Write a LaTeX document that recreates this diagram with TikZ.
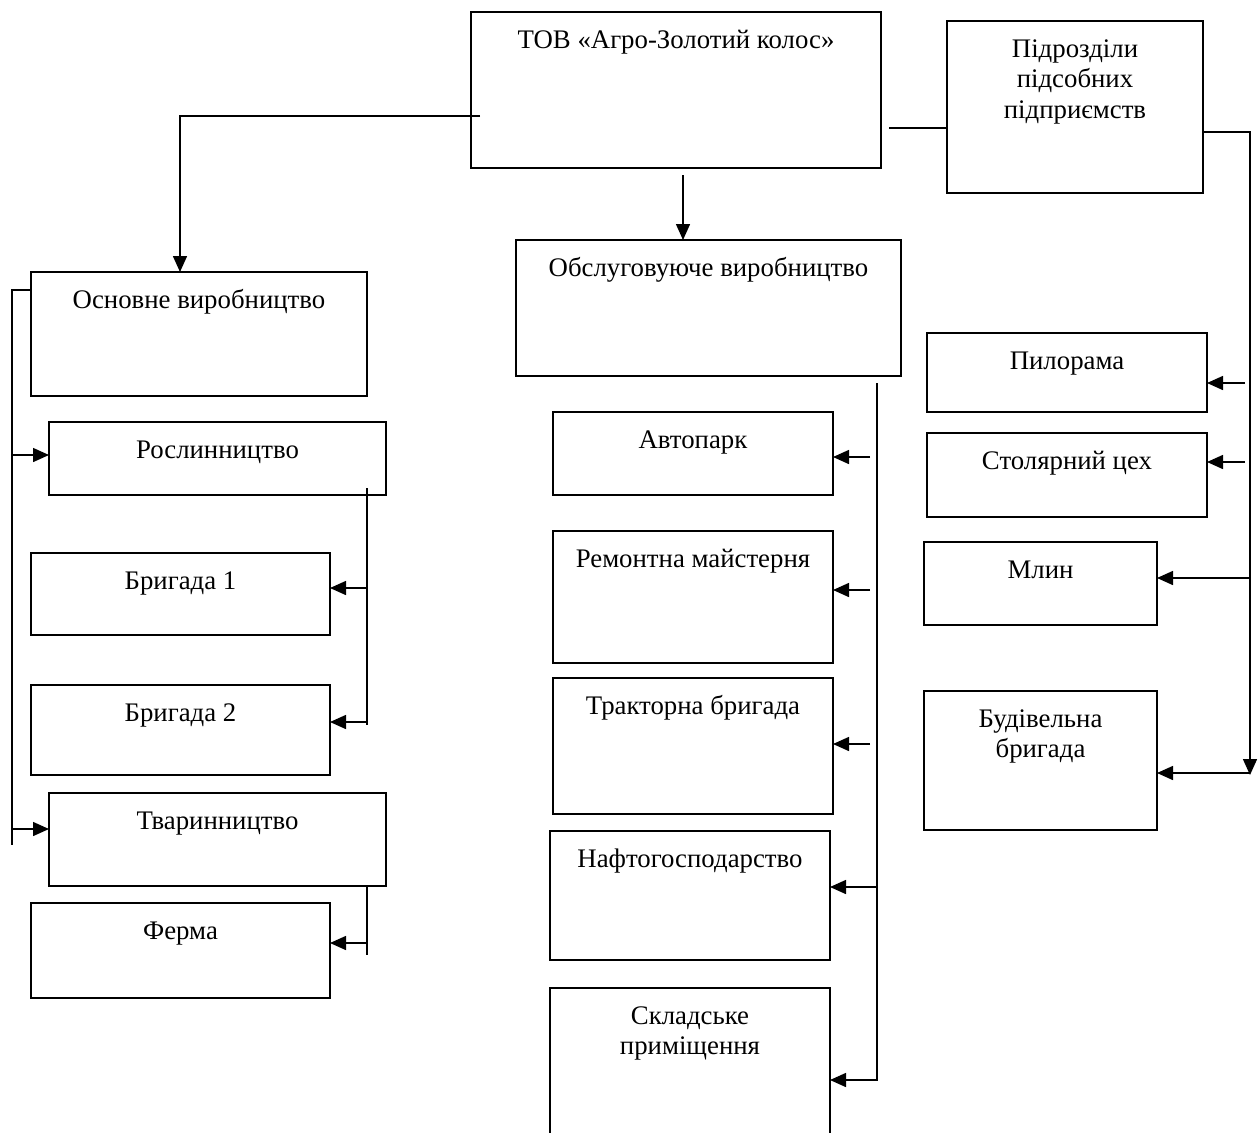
\documentclass[tikz,border=0pt]{standalone}
\usepackage{fontspec}
\setmainfont{Liberation Serif}
\usetikzlibrary{arrows.meta}
\begin{document}
\begin{tikzpicture}[x=1pt,y=-1pt,
  box/.style={draw, line width=1.5pt, inner sep=0pt, outer sep=0pt, anchor=north west},
  lbl/.style={anchor=base, inner sep=0pt, font=\fontsize{26.8}{30.5}\selectfont},
  conn/.style={line width=1.5pt},
  arr/.style={conn, -{Triangle[length=16pt,width=14pt]}}]
\useasboundingbox (0,0) rectangle (1259,1133);
% boxes
\node[box, minimum width=410pt, minimum height=156pt] (tov) at (471,12) {};
\node[box, minimum width=256pt, minimum height=172pt] (pid) at (947,21) {};
\node[box, minimum width=336pt, minimum height=124pt] (osn) at (31,272) {};
\node[box, minimum width=385pt, minimum height=136pt] (obs) at (516,240) {};
\node[box, minimum width=337pt, minimum height=73pt] (ros) at (49,422) {};
\node[box, minimum width=299pt, minimum height=82pt] (br1) at (31,553) {};
\node[box, minimum width=299pt, minimum height=90pt] (br2) at (31,685) {};
\node[box, minimum width=337pt, minimum height=93pt] (tva) at (49,793) {};
\node[box, minimum width=299pt, minimum height=95pt] (fer) at (31,903) {};
\node[box, minimum width=280pt, minimum height=83pt] (avt) at (553,412) {};
\node[box, minimum width=280pt, minimum height=132pt] (rem) at (553,531) {};
\node[box, minimum width=280pt, minimum height=136pt] (tra) at (553,678) {};
\node[box, minimum width=280pt, minimum height=129pt] (naf) at (550,831) {};
\node[box, minimum width=280pt, minimum height=160pt] (skl) at (550,988) {};
\node[box, minimum width=280pt, minimum height=79pt] (pil) at (927,333) {};
\node[box, minimum width=280pt, minimum height=84pt] (sto) at (927,433) {};
\node[box, minimum width=233pt, minimum height=83pt] (mly) at (924,542) {};
\node[box, minimum width=233pt, minimum height=139pt] (bud) at (924,691) {};
% labels
\node[lbl] (ttov) at ([yshift=-36pt]tov.north) {ТОВ «Агро-Золотий колос»};
\node[lbl] (tpid) at ([yshift=-36pt]pid.north) {\begin{tabular}[t]{@{}c@{}}Підрозділи\\підсобних\\підприємств\end{tabular}};
\node[lbl] (tosn) at ([yshift=-36pt]osn.north) {Основне виробництво};
\node[lbl] (tobs) at ([yshift=-36pt]obs.north) {Обслуговуюче виробництво};
\node[lbl] (tros) at ([yshift=-36pt]ros.north) {Рослинництво};
\node[lbl] (tbr1) at ([yshift=-36pt]br1.north) {Бригада 1};
\node[lbl] (tbr2) at ([yshift=-36pt]br2.north) {Бригада 2};
\node[lbl] (ttva) at ([yshift=-36pt]tva.north) {Тваринництво};
\node[lbl] (tfer) at ([yshift=-36pt]fer.north) {Ферма};
\node[lbl] (tavt) at ([yshift=-36pt]avt.north) {Автопарк};
\node[lbl] (trem) at ([yshift=-36pt]rem.north) {Ремонтна майстерня};
\node[lbl] (ttra) at ([yshift=-36pt]tra.north) {Тракторна бригада};
\node[lbl] (tnaf) at ([yshift=-36pt]naf.north) {Нафтогосподарство};
\node[lbl] (tskl) at ([yshift=-36pt]skl.north) {\begin{tabular}[t]{@{}c@{}}Складське\\приміщення\end{tabular}};
\node[lbl] (tpil) at ([yshift=-36pt]pil.north) {Пилорама};
\node[lbl] (tsto) at ([yshift=-36pt]sto.north) {Столярний цех};
\node[lbl] (tmly) at ([yshift=-36pt]mly.north) {Млин};
\node[lbl] (tbud) at ([yshift=-36pt]bud.north) {\begin{tabular}[t]{@{}c@{}}Будівельна\\бригада\end{tabular}};
% connector coordinates
\coordinate (a1) at (480,116);
\coordinate (a2) at (180,272);
\coordinate (m1) at (683,175);
\coordinate (r0) at (889,128);
\coordinate (r1) at (1250,132);
\coordinate (r2) at (1250,775);
\coordinate (l1) at (12,290);
\coordinate (l2) at (12,845);
\coordinate (c1) at (367,488);
\coordinate (c2) at (367,725);
\coordinate (c3) at (367,886);
\coordinate (c4) at (367,955);
\coordinate (s1) at (877,383);
\coordinate (s2) at (877,1080);
% top level
\draw[arr] (a1) -| (a2 |- osn.north);
\draw[arr] (m1) -- (m1 |- obs.north);
\draw[conn] (r0) -- (r0 -| pid.west);
\draw[arr] (r1 -| pid.east) -- (r1) -- (r2);
% right branch
\draw[arr] (1245,383) -- (pil.east |- 0,383);
\draw[arr] (1245,462) -- (sto.east |- 0,462);
\draw[arr] (r1 |- 0,578) -- (mly.east |- 0,578);
\draw[arr] (r1 |- 0,773) -- (bud.east |- 0,773);
% left branch
\draw[conn] (l1 -| osn.west) -- (l1) -- (l2);
\draw[arr] (l1 |- 0,455) -- (ros.west |- 0,455);
\draw[arr] (l1 |- 0,829) -- (tva.west |- 0,829);
\draw[conn] (c1) -- (c2);
\draw[arr] (c1 |- 0,588) -- (br1.east |- 0,588);
\draw[arr] (c2 |- 0,722) -- (br2.east |- 0,722);
\draw[conn] (c3) -- (c4);
\draw[arr] (c3 |- 0,943) -- (fer.east |- 0,943);
% middle branch
\draw[arr] (s1) -- (s2) -- (skl.east |- s2);
\draw[arr] (870,457) -- (avt.east |- 0,457);
\draw[arr] (870,590) -- (rem.east |- 0,590);
\draw[arr] (870,744) -- (tra.east |- 0,744);
\draw[arr] (s1 |- 0,887) -- (naf.east |- 0,887);
\end{tikzpicture}
\end{document}
